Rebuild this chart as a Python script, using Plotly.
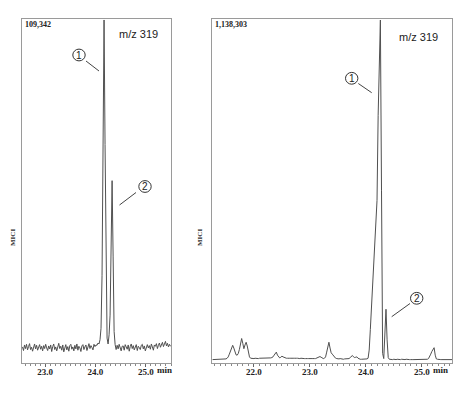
import numpy as np
import plotly.graph_objects as go

# ---------------- data (relative intensity, % of max) ----------------
step = 0.02
left_t0 = 22.55
left_vals = [
    0.3, -0.8, 0.9, -0.2, 1.1, -0.6, 0.4, 1.3, -0.5, 0.2,
    -1.0, 0.6, 1.2, -0.3, 0.8, -0.7, 0.1, 1.0, -0.4, 0.5,
    -0.9, 0.7, -0.2, 1.1, 0.0, -0.8, 0.6, -0.3, 0.9, -1.1,
    0.4, 1.2, -0.5, 0.3, -0.9, 0.8, 1.4, -0.2, 0.5, -0.7,
    0.9, -1.2, 0.2, 1.0, -0.6, 0.4, -1.0, 0.7, 1.1, -0.4,
    0.3, -0.9, 0.8, -0.3, 1.2, -0.7, 0.5, 0.0, -1.1, 0.6,
    1.0, -0.5, 0.3, 0.9, -0.8, 0.6, 1.3, -0.2, 0.7, 0.1,
    -0.6, 1.1, 0.4, 0.9, 0.8, 1.5, 1.2, 2.5, 6.0, 22.0,
    68.0, 100.0, 62.0, 16.0, 3.0, 1.2, 4.0, 10.0, 36.0, 51.0,
    28.0, 5.0, 1.0, -0.5, 0.8, -0.3, 1.1, 0.2, -0.9, 0.5,
    0.6, -0.7, 1.0, 0.3, -0.4, 0.9, -1.0, 0.4, 1.2, -0.2,
    0.7, -0.6, 0.2, 1.0, -0.8, 0.5, 0.1, -0.5, 0.8, 1.1,
    -0.3, 0.6, -0.9, 0.4, 1.0, 0.0, 0.7, -0.4, 1.2, 0.3,
    -0.7, 0.9, 0.5, 1.3, -0.2, 0.8, 1.5, 0.2, 1.0, 1.7,
    0.4, 1.2, 2.0, 0.6, 1.4, 0.3, 1.1, 0.5,
]
left_max_label = "109,342"

right_t0 = 21.26
right_vals = [
    0.2, 0.2, 0.3, 0.2, 0.3, 0.3, 0.2, 0.3, 0.4, 0.3,
    0.3, 0.3, 0.4, 0.6, 1.0, 1.8, 2.9, 3.9, 4.4, 3.6,
    2.4, 1.6, 1.5, 2.0, 3.2, 5.2, 6.4, 5.0, 3.4, 4.5,
    5.3, 4.2, 2.2, 1.0, 0.6, 0.5, 0.5, 0.5, 0.6, 0.5,
    0.6, 0.5, 0.6, 0.6, 0.5, 0.6, 0.7, 0.6, 0.6, 0.5,
    0.6, 0.6, 0.7, 0.8, 1.0, 1.5, 2.2, 2.4, 1.5, 0.9,
    0.7, 0.9, 1.2, 1.0, 0.8, 0.7, 0.6, 0.6, 0.7, 0.6,
    0.6, 0.5, 0.6, 0.6, 0.5, 0.6, 0.6, 0.5, 0.5, 0.6,
    0.5, 0.6, 0.5, 0.5, 0.6, 0.5, 0.5, 0.4, 0.5, 0.5,
    0.4, 0.5, 0.5, 0.6, 0.8, 1.0, 1.1, 0.9, 0.6, 0.5,
    0.6, 1.0, 2.4, 4.2, 5.3, 3.6, 2.2, 1.8, 1.4, 0.9,
    0.6, 0.5, 0.4, 0.4, 0.5, 0.4, 0.4, 0.3, 0.4, 0.4,
    0.3, 0.4, 0.5, 0.8, 1.2, 1.4, 1.0, 0.8, 0.9, 1.0,
    0.6, 0.4, 0.3, 0.3, 0.3, 0.2, 0.3, 0.3, 0.4, 0.6,
    3.0, 9.0, 15.0, 21.0, 27.0, 34.0, 40.0, 47.0, 72.0, 90.0,
    100.0, 50.0, 2.0, 0.5, 8.0, 15.0, 6.0, 0.8, 0.3, 0.2,
    0.2, 0.2, 0.3, 0.2, 0.2, 0.3, 0.2, 0.2, 0.2, 0.3,
    0.2, 0.2, 0.2, 0.3, 0.2, 0.2, 0.2, 0.2, 0.3, 0.2,
    0.2, 0.2, 0.2, 0.2, 0.3, 0.2, 0.2, 0.2, 0.2, 0.2,
    0.2, 0.3, 0.3, 0.5, 1.0, 1.8, 2.6, 3.3, 3.7, 1.5,
    0.4, 0.3, 0.2, 0.2, 0.2, 0.2, 0.2, 0.2, 0.2, 0.2,
    0.2, 0.2, 0.2, 0.2, 0.2,
]
right_max_label = "1,138,303"

left_ticks = [23.0, 24.0, 25.0]
right_ticks = [22.0, 23.0, 24.0, 25.0]
ion_label = "m/z 319"
y_title = "MICI"

left_t = left_t0 + step * np.arange(len(left_vals))
right_t = right_t0 + step * np.arange(len(right_vals))

# page body has an 8px margin -> work in window pixels, convert to figure paper
OFF = 8
W, H = 466, 387


def px(x):
    return (x - OFF) / W


def py(y):
    return 1 - (y - OFF) / H


fig = go.Figure()
line_style = dict(color="#505050", width=1)
fig.add_trace(go.Scatter(x=left_t, y=left_vals, mode="lines", line=line_style,
                         xaxis="x", yaxis="y", showlegend=False, hoverinfo="skip"))
fig.add_trace(go.Scatter(x=right_t, y=right_vals, mode="lines", line=line_style,
                         xaxis="x2", yaxis="y2", showlegend=False, hoverinfo="skip"))

tickfont = dict(family="Liberation Serif", size=9, color="#222", weight="bold")
ydom = [py(363), py(19)]


def xaxis_cfg(dom, rng, ticks, anchor):
    return dict(domain=dom, range=rng, anchor=anchor,
                tickvals=ticks, ticktext=["%.1f" % t for t in ticks],
                showline=True, linecolor="#9a9a9a", linewidth=1, mirror=True,
                ticks="outside", ticklen=3, tickcolor="#666", tickwidth=1,
                ticklabelstandoff=-3,
                minor=dict(dtick=0.1, tick0=22.0, ticks="outside", ticklen=2,
                           tickcolor="#888", tickwidth=1, showgrid=False),
                showgrid=False, zeroline=False, tickfont=tickfont, fixedrange=True)


def yaxis_cfg(rng, anchor):
    return dict(domain=ydom, range=rng, anchor=anchor, showline=True,
                linecolor="#9a9a9a", linewidth=1, mirror=True, showticklabels=False,
                ticks="", showgrid=False, zeroline=False, fixedrange=True)


fig.update_layout(
    width=W, height=H, margin=dict(l=0, r=0, t=0, b=0),
    paper_bgcolor="white", plot_bgcolor="white",
    xaxis=xaxis_cfg([px(22), px(171)], [22.54, 25.50], left_ticks, "y"),
    yaxis=yaxis_cfg([-4.6, 100.3], "x"),
    xaxis2=xaxis_cfg([px(212), px(452)], [21.25, 25.54], right_ticks, "y2"),
    yaxis2=yaxis_cfg([-0.8, 100.3], "x2"),
)

ann = []
# 'min' unit after last tick label
for xr in ("x", "x2"):
    ann.append(dict(x=25.0, xref=xr, y=py(370), yref="paper", text="min",
                    showarrow=False, xanchor="left", yanchor="middle", xshift=9,
                    font=dict(family="Liberation Serif", size=9, color="#222", weight="bold")))
# max intensity labels
ann.append(dict(x=px(23), y=py(24), xref="paper", yref="paper", text=left_max_label,
                showarrow=False, xanchor="left", yanchor="middle",
                font=dict(family="Liberation Serif", size=8, color="#222", weight="bold")))
ann.append(dict(x=px(213), y=py(24), xref="paper", yref="paper", text=right_max_label,
                showarrow=False, xanchor="left", yanchor="middle",
                font=dict(family="Liberation Serif", size=8, color="#222", weight="bold")))
# ion labels
ann.append(dict(x=px(138), y=py(34), xref="paper", yref="paper", text=ion_label,
                showarrow=False, xanchor="center", yanchor="middle",
                font=dict(family="Liberation Sans", size=11, color="#222")))
ann.append(dict(x=px(418), y=py(37), xref="paper", yref="paper", text=ion_label,
                showarrow=False, xanchor="center", yanchor="middle",
                font=dict(family="Liberation Sans", size=11, color="#222")))
# y titles
for xpix in (13, 200):
    ann.append(dict(x=px(xpix), y=py(238), xref="paper", yref="paper", text=y_title,
                    showarrow=False, textangle=-90, xanchor="center", yanchor="middle",
                    font=dict(family="Liberation Serif", size=7, color="#333", weight="bold")))

# circled peak labels with leader lines
markers = [
    ("1", (79, 55), (86, 61), (99, 71)),
    ("2", (145, 186.5), (136, 192.5), (119.5, 205)),
    ("1", (351.7, 78.3), (358.3, 83.5), (371.7, 92.7)),
    ("2", (416.7, 298.3), (410, 303.5), (391.7, 316.7)),
]
shapes = []
r = 6.2
for label, (cx, cy), (x0, y0), (x1, y1) in markers:
    shapes.append(dict(type="circle", xref="paper", yref="paper",
                       x0=px(cx - r), x1=px(cx + r), y0=py(cy + r * 0.95), y1=py(cy - r * 0.95),
                       line=dict(color="#333", width=1)))
    shapes.append(dict(type="line", xref="paper", yref="paper",
                       x0=px(x0), y0=py(y0), x1=px(x1), y1=py(y1),
                       line=dict(color="#444", width=1)))
    ann.append(dict(x=px(cx), y=py(cy), xref="paper", yref="paper", text=label,
                    showarrow=False, xanchor="center", yanchor="middle",
                    font=dict(family="Liberation Sans", size=10, color="#222")))

fig.update_layout(annotations=ann, shapes=shapes)
fig.write_html("out.html")
